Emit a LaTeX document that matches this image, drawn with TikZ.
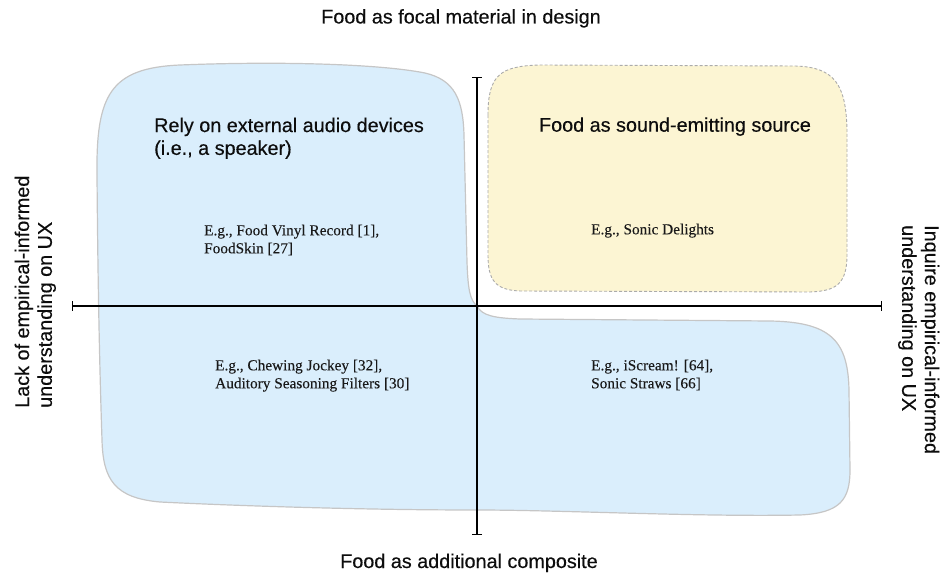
\documentclass[tikz,border=0pt]{standalone}
\usepackage{fontspec}
\setmainfont{Liberation Serif}[FakeBold=0.15]
\newfontfamily\sansf{Liberation Sans}[FakeBold=0.35]
\usetikzlibrary{arrows.meta}
\definecolor{bluefill}{HTML}{DAEEFC}
\definecolor{blueline}{HTML}{C6C6C6}
\definecolor{yelfill}{HTML}{FCF5D3}
\definecolor{yelline}{HTML}{ABABAB}
\begin{document}
\begin{tikzpicture}[x=1pt,y=-1pt,
  title/.style={font=\sansf\fontsize{19.8}{22.8}\selectfont, inner sep=0pt, text=black!95},
  example/.style={font=\fontsize{15.3}{18}\selectfont, inner sep=0pt, align=left, anchor=north west, text=black!90},
  axisline/.style={line width=1.2pt, {Bar[width=10pt,line width=1.2pt]}-{Bar[width=10pt,line width=1.2pt]}},
  region/.style={fill=bluefill, draw=blueline, line width=1.2pt},
  focal/.style={fill=yelfill, draw=yelline, line width=0.9pt, dash pattern=on 3pt off 2pt}
]
\useasboundingbox (0,0) rectangle (940,577);

% blue L-shaped region
\path[region] (97,175)
  .. controls (96,95) and (110,68) .. (180,65)
  .. controls (280,61) and (380,64) .. (425,73)
  .. controls (455,80) and (463,100) .. (464,135)
  -- (467,262)
  .. controls (468,290) and (470,300) .. (477,306)
  .. controls (482,316) and (495,318) .. (520,319)
  -- (770,321)
  .. controls (830,322) and (848,340) .. (849,390)
  -- (850,470)
  .. controls (850,500) and (840,513) .. (800,515)
  .. controls (700,517) and (560,510) .. (477,510)
  .. controls (350,510) and (220,505) .. (160,502)
  .. controls (115,498) and (103,480) .. (102,440)
  .. controls (100,380) and (98,300) .. (97,175)
  -- cycle;

% yellow region
\path[focal] (488,115)
  .. controls (488,75) and (500,66) .. (540,65)
  -- (795,66)
  .. controls (835,67) and (846,85) .. (847,130)
  -- (847,255)
  .. controls (847,285) and (835,291) .. (810,292)
  -- (520,291)
  .. controls (495,290) and (488,280) .. (488,255)
  -- cycle;

% axes
\coordinate (xl) at (72,306);
\coordinate (xr) at (882,306);
\coordinate (yt) at (477,77);
\coordinate (yb) at (477,535);
\draw[axisline] (xl) -- (xr);
\draw[axisline] (yt) -- (yb);

% axis labels
\node[title, anchor=base] (top) at (461,23.5) {Food as focal material in design};
\node[title, anchor=base] (bottom) at (469,568) {Food as additional composite};
\node[title, align=left, rotate=90, anchor=north west] (left) at (14.5,408)
  {Lack of empirical-informed\\understanding on UX};
\node[title, align=left, rotate=-90, anchor=north west] (right) at (939.5,225)
  {Inquire empirical-informed\\understanding on UX};

% region titles
\node[title, align=left, anchor=north west] (ext) at (154,117.5)
  {Rely on external audio devices\\(i.e., a speaker)};
\node[title, anchor=base] (src) at (675,131.7) {Food as sound-emitting source};

% examples
\node[example] (ex1) at (204,224.5) {E.g., Food Vinyl Record [1],\\FoodSkin [27]};
\node[example] (ex2) at (591,223.5) {E.g., Sonic Delights};
\node[example] (ex3) at (215,359.5) {E.g., Chewing Jockey [32],\\Auditory Seasoning Filters [30]};
\node[example] (ex4) at (591,359.5) {E.g., iScream! [64],\\Sonic Straws [66]};
\end{tikzpicture}
\end{document}
